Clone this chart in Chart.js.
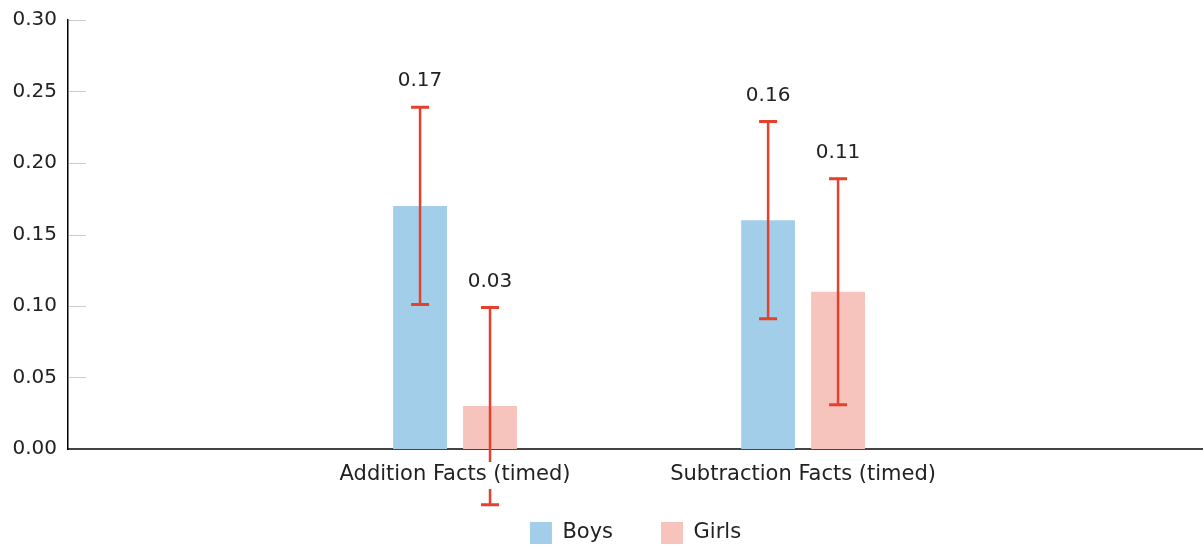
<!DOCTYPE html>
<html>
<head>
<meta charset="utf-8">
<script src="https://cdn.jsdelivr.net/npm/chart.js@4.4.0/dist/chart.umd.min.js"></script>
<style>
  html, body { margin: 0; padding: 0; background: #fff; }
  #wrap { width: 1203px; height: 547px; position: relative; }
</style>
</head>
<body>
<div id="wrap"><canvas id="chart"></canvas></div>
<script>
// datos
const categories = ['Addition Facts (timed)', 'Subtraction Facts (timed)'];
const boysValues = [0.17, 0.16];
const girlsValues = [0.03, 0.11];
const boysErr = [0.069, 0.069];
const girlsErr = [0.069, 0.079];
const yTicks = [0, 0.05, 0.10, 0.15, 0.20, 0.25, 0.30];

const FONT = 'DejaVu Sans';
const errColor = '#e5402b';

// barras de error, etiquetas de valor, etiquetas del eje x y marcas cortas del eje y
const errorBars = {
    id: 'errorBars',
    afterDatasetsDraw(chart) {
        const ctx = chart.ctx;
        const y = chart.scales.y;
        const x = chart.scales.x;
        const errs = [boysErr, girlsErr];
        ctx.save();
        // marcas del eje y hacia dentro
        ctx.strokeStyle = '#cccccc';
        ctx.lineWidth = 1;
        yTicks.forEach(t => {
            if (t === 0) return;
            const py = Math.round(y.getPixelForValue(t)) + 0.5;
            ctx.beginPath();
            ctx.moveTo(chart.chartArea.left + 1, py);
            ctx.lineTo(chart.chartArea.left + 18, py);
            ctx.stroke();
        });
        chart.data.datasets.forEach((ds, di) => {
            const meta = chart.getDatasetMeta(di);
            meta.data.forEach((bar, i) => {
                const v = ds.data[i].y;
                const e = errs[di][i];
                const top = y.getPixelForValue(v + e);
                const bot = y.getPixelForValue(v - e);
                const bx = bar.x;
                ctx.strokeStyle = errColor;
                ctx.lineWidth = 2.5;
                ctx.beginPath();
                ctx.moveTo(bx, top);
                ctx.lineTo(bx, bot);
                ctx.stroke();
                ctx.lineWidth = 3;
                ctx.beginPath();
                ctx.moveTo(bx - 9, top);
                ctx.lineTo(bx + 9, top);
                ctx.moveTo(bx - 9, bot);
                ctx.lineTo(bx + 9, bot);
                ctx.stroke();
                ctx.fillStyle = '#222';
                ctx.font = '20px "' + FONT + '"';
                ctx.textAlign = 'center';
                ctx.textBaseline = 'middle';
                ctx.fillText(v.toFixed(2), bx, top - 26);
            });
        });
        // etiquetas de categoria con fondo blanco
        ctx.font = '21px "' + FONT + '"';
        ctx.textAlign = 'center';
        ctx.textBaseline = 'middle';
        categories.forEach((c, i) => {
            const px = x.getPixelForValue(i);
            const py = chart.chartArea.bottom + 26;
            const w = ctx.measureText(c).width;
            ctx.fillStyle = '#ffffff';
            ctx.fillRect(px - w / 2 - 3, py - 13, w + 6, 27);
            ctx.fillStyle = '#222';
            ctx.fillText(c, px, py);
        });
        ctx.restore();
    }
};

new Chart(document.getElementById('chart'), {
    type: 'bar',
    data: {
        datasets: [{
            label: 'Boys',
            data: boysValues.map((v, i) => ({ x: i, y: v })),
            backgroundColor: '#a3cee9'
        }, {
            label: 'Girls',
            data: girlsValues.map((v, i) => ({ x: i, y: v })),
            backgroundColor: '#f6c4bd'
        }]
    },
    options: {
        responsive: true,
        maintainAspectRatio: false,
        animation: false,
        categoryPercentage: 0.402,
        barPercentage: 0.77,
        layout: { padding: { top: 20, right: 0, bottom: 0, left: 0 } },
        scales: {
            x: {
                type: 'linear',
                offset: false,
                min: -1.112,
                max: 2.149,
                z: 1,
                afterBuildTicks: (scale) => {
                    scale.ticks = categories.map((c, i) => ({ value: i }));
                },
                afterFit: (scale) => { scale.height = 25; },
                grid: { display: false, drawTicks: false },
                border: { display: true, color: '#444', width: 2 },
                ticks: { display: false }
            },
            y: {
                min: 0,
                max: 0.30,
                afterBuildTicks: (scale) => {
                    scale.ticks = yTicks.map(v => ({ value: v }));
                },
                afterFit: (scale) => {
                    scale.width = 68;
                    scale.paddingTop = 0;
                    scale.paddingBottom = 0;
                },
                grid: { display: false, drawTicks: false },
                border: { display: true, color: '#000', width: 1.5 },
                ticks: {
                    padding: 11,
                    color: '#222',
                    font: { family: FONT, size: 20 },
                    callback: (v) => v.toFixed(2)
                }
            }
        },
        plugins: {
            legend: {
                position: 'bottom',
                fullSize: false,
                maxHeight: 73,
                labels: {
                    boxWidth: 22,
                    boxHeight: 22,
                    padding: 48,
                    color: '#222',
                    font: { family: FONT, size: 21 }
                }
            },
            tooltip: { enabled: false }
        }
    },
    plugins: [errorBars]
});
</script>
</body>
</html>
